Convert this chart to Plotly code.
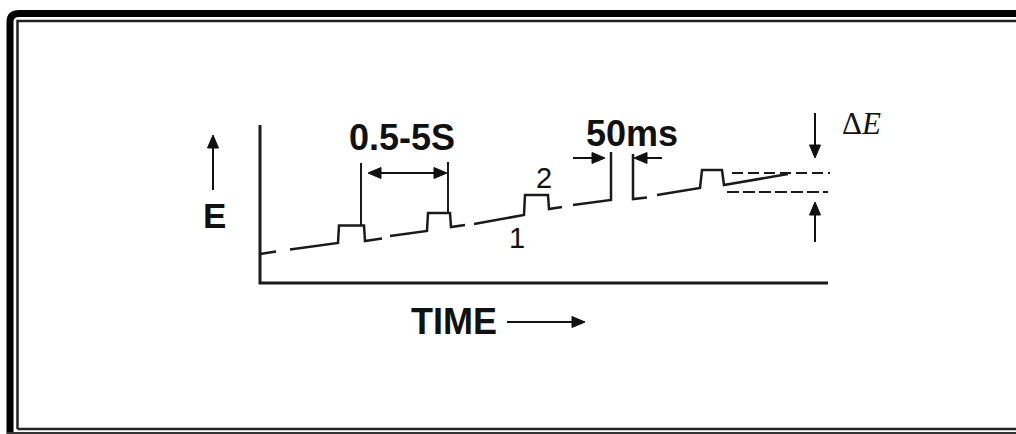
import plotly.graph_objects as go

W, H = 1016, 434

# ---- schematic data (pixel-space units of the diagram) ----
# diagram axes (E vs TIME)
axis_x = [260, 260, 828]
axis_y = [125, 283, 283]

# potential waveform: solid pieces separated by gaps (dashed look)
wave_x = [260, 276, None,
          290, 338, 339, 364, 365, 382, None,
          390, 427, 428, 450, 451, 465, None,
          474, 524, 525, 548, 549, 562, None,
          573, 611, 611, None,
          633, 633, 647, None,
          657, 700, 702, 722, 724, 788]
wave_y = [254, 251.5, None,
          249.5, 243, 225.5, 225.5, 241, 238.5, None,
          236, 231, 213, 213, 227, 225, None,
          224, 215, 195, 195, 209, 207, None,
          205, 200, 152, None,
          154, 199, 197.5, None,
          195, 188, 170, 170, 185, 174]

# vertical marker lines bounding the 0.5-5 s interval
marker_x = [361, 361, None, 448, 448]
marker_y = [163, 225.5, None, 162, 213]

# dashed reference levels for Delta E
ref_upper_x = [732, 830]
ref_upper_y = [173, 173]
ref_lower_x = [727, 828]
ref_lower_y = [192, 192]

# arrows: tail -> tip
arrow_tail_x = [213, 507, 407, 407, 573, 662, 815, 815]
arrow_tail_y = [190, 322, 173, 173, 158, 158, 113, 242]
arrow_tip_x = [213, 585, 368, 447, 605, 634, 815, 815]
arrow_tip_y = [135, 322, 173, 173, 158, 158, 158, 202]

# text labels
label_text = ["E", "TIME", "0.5-5S", "50ms", "1", "2", "Δ<i>E</i>"]
label_x = [214, 454, 402, 632, 517, 544, 861]
label_y = [215, 321, 137, 133, 238, 178, 123]

fig = go.Figure()

fig.add_trace(go.Scatter(x=axis_x, y=axis_y, mode="lines",
                         line=dict(color="#1a1a1a", width=3), hoverinfo="skip"))
fig.add_trace(go.Scatter(x=wave_x, y=wave_y, mode="lines",
                         line=dict(color="#1a1a1a", width=2.5), hoverinfo="skip"))
fig.add_trace(go.Scatter(x=marker_x, y=marker_y, mode="lines",
                         line=dict(color="#1a1a1a", width=2), hoverinfo="skip"))
fig.add_trace(go.Scatter(x=ref_upper_x, y=ref_upper_y, mode="lines",
                         line=dict(color="#1a1a1a", width=2, dash="11px,5px"), hoverinfo="skip"))
fig.add_trace(go.Scatter(x=ref_lower_x, y=ref_lower_y, mode="lines",
                         line=dict(color="#1a1a1a", width=2, dash="12px,4px"), hoverinfo="skip"))

# arrows built from tail/tip data
HL, HW = 13, 5.5
for tx, ty, px, py in zip(arrow_tail_x, arrow_tail_y, arrow_tip_x, arrow_tip_y):
    dx, dy = px - tx, py - ty
    n = (dx * dx + dy * dy) ** 0.5
    ux, uy = dx / n, dy / n
    bx, by = px - HL * ux, py - HL * uy
    nx, ny = -uy, ux
    fig.add_trace(go.Scatter(x=[tx, bx], y=[ty, by], mode="lines",
                             line=dict(color="#111", width=2), hoverinfo="skip"))
    fig.add_trace(go.Scatter(x=[px, bx + HW * nx, bx - HW * nx, px],
                             y=[py, by + HW * ny, by - HW * ny, py],
                             mode="lines", fill="toself", fillcolor="#111",
                             line=dict(color="#111", width=1), hoverinfo="skip"))

fonts = [
    dict(family="Liberation Sans, Arial", size=35, color="#111", weight="bold"),
    dict(family="Liberation Sans, Arial", size=36, color="#111", weight="bold"),
    dict(family="Liberation Sans, Arial", size=36, color="#111", weight="bold"),
    dict(family="Liberation Sans, Arial", size=36, color="#111", weight="bold"),
    dict(family="Liberation Sans, Arial", size=29, color="#111"),
    dict(family="Liberation Sans, Arial", size=29, color="#111"),
    dict(family="Liberation Serif, DejaVu Serif", size=31, color="#111"),
]
for t, x, y, f in zip(label_text, label_x, label_y, fonts):
    fig.add_annotation(x=x, y=y, text=t, showarrow=False, font=f,
                       xanchor="center", yanchor="middle", xref="x", yref="y")

# picture frame (double border)
fig.add_shape(type="path", xref="x", yref="y",
              path="M 10,440 L 10,22 Q 10,13.5 19,13.5 L 1030,13.5",
              line=dict(color="#000", width=7))
fig.add_shape(type="path", xref="x", yref="y",
              path="M 17.5,429 L 17.5,21 L 1030,21 M 17.5,429 L 1030,429",
              line=dict(color="#222", width=2.5))
fig.add_shape(type="line", xref="x", yref="y", x0=7, x1=1030, y0=433, y1=433,
              line=dict(color="#333", width=2))

fig.update_layout(
    width=W, height=H, margin=dict(l=0, r=0, t=0, b=0),
    paper_bgcolor="white", plot_bgcolor="white", showlegend=False,
    xaxis=dict(range=[0, W], visible=False, fixedrange=True),
    yaxis=dict(range=[H, 0], visible=False, fixedrange=True),
)

fig.write_html("out.html")
